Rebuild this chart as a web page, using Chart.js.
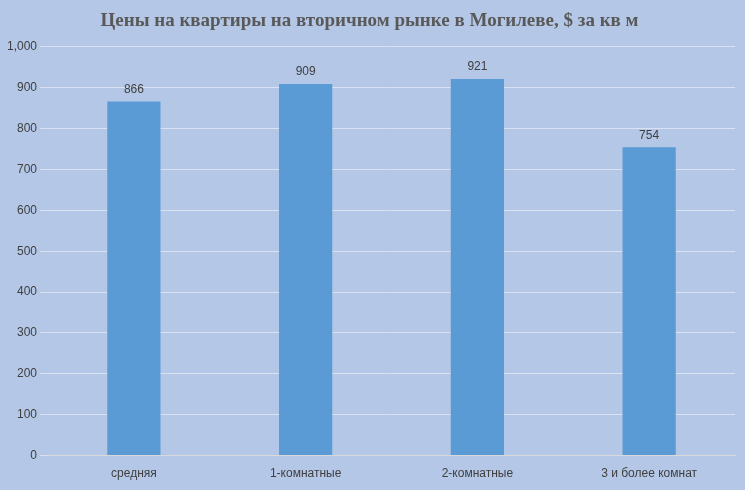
<!DOCTYPE html>
<html><head><meta charset="utf-8">
<script src="https://cdn.jsdelivr.net/npm/chart.js@4"></script>
<style>html,body{margin:0;padding:0;background:#b4c7e7;}#w{width:745px;height:490px;}</style>
</head><body><div id="w"><canvas id="c" width="745" height="490"></canvas></div>
<script>
const categories = ["средняя", "1-комнатные", "2-комнатные", "3 и более комнат"];
const values = [866, 909, 921, 754];
const titleText = "Цены на квартиры на вторичном рынке в Могилеве, $ за кв м";

const labelPlugin = {
  id: 'lbl',
  afterDatasetsDraw(chart) {
    const ctx = chart.ctx;
    const meta = chart.getDatasetMeta(0);
    ctx.save();
    ctx.font = '12px "Liberation Sans", Arial, sans-serif';
    ctx.fillStyle = '#404040';
    ctx.textAlign = 'center';
    ctx.textBaseline = 'bottom';
    meta.data.forEach((b, i) => ctx.fillText(values[i], b.x, b.y - 6));
    ctx.restore();
  }
};

new Chart(document.getElementById('c'), {
  type: 'bar',
  data: { labels: categories, datasets: [{ data: values, backgroundColor: '#5b9bd5', categoryPercentage: 1, barPercentage: 0.31 }] },
  options: {
    responsive: false, animation: false,
    layout: { padding: { left: 4, right: 10, top: 4, bottom: 6 } },
    plugins: {
      legend: { display: false }, tooltip: { enabled: false },
      title: { display: true, text: titleText, color: '#595959',
        font: { family: '"Liberation Serif", "Times New Roman", serif', size: 19, weight: 'bold' },
        padding: { top: 6, bottom: 14 } }
    },
    scales: {
      x: { grid: { display: false }, border: { color: '#d9d9d9' },
        ticks: { color: '#404040', font: { family: '"Liberation Sans", Arial, sans-serif', size: 12 } } },
      y: { min: 0, max: 1000, ticks: { stepSize: 100, color: '#404040', font: { family: '"Liberation Sans", Arial, sans-serif', size: 12 } },
        grid: { color: '#d9e1f2' }, border: { display: false } }
    }
  },
  plugins: [labelPlugin]
});
</script></body></html>
